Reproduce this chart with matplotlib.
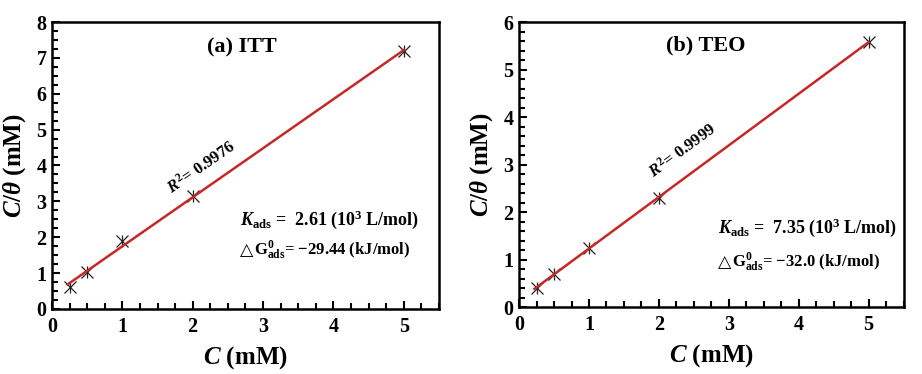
import numpy as np
import matplotlib
matplotlib.use("Agg")
import matplotlib.pyplot as plt
import matplotlib.transforms as mtransforms
from matplotlib.ticker import MultipleLocator

plt.rcParams['font.family'] = ['Liberation Serif', 'DejaVu Serif']
plt.rcParams['font.weight'] = 'bold'
plt.rcParams['mathtext.fontset'] = 'custom'
plt.rcParams['mathtext.rm'] = 'Liberation Serif:bold'
plt.rcParams['mathtext.it'] = 'Liberation Serif:italic:bold'
plt.rcParams['mathtext.bf'] = 'Liberation Serif:bold'
plt.rcParams['mathtext.fallback'] = 'stix'

# Data
conc = [0.25, 0.5, 1.0, 2.0, 5.0]
itt_ratio = [0.60, 1.03, 1.90, 3.15, 7.18]
teo_ratio = [0.40, 0.70, 1.25, 2.30, 5.58]
titles = ['(a) ITT', '(b) TEO']
r2_labels = ['0.9976', '0.9999']
kads_vals = ['2.61', '7.35']
dg_vals = ['\u221229.44', '\u221232.0']

fig = plt.figure(figsize=(9.22, 3.74), dpi=100)
ax1 = fig.add_axes([0.0564, 0.174, 0.4196, 0.767])
ax2 = fig.add_axes([0.563, 0.179, 0.417, 0.762])

cfg = [
    dict(ax=ax1, y=itt_ratio, ylim=8, ymin=0.25, title_xy=(2.7, 7.3),
         r2_xy=(2.12, 3.95), k_xy=(2.67, 2.34), dg_xy=(2.67, 1.5)),
    dict(ax=ax2, y=teo_ratio, ylim=6, ymin=0.2, title_xy=(2.67, 5.5),
         r2_xy=(2.34, 3.3), k_xy=(2.84, 1.56), dg_xy=(2.84, 0.84)),
]

red = '#c62828'
for i, c in enumerate(cfg):
    ax = c['ax']
    x = np.array(conc)
    y = np.array(c['y'])
    p = np.polyfit(x, y, 1)
    xl = np.array([0.22, 5.0])
    ax.plot(x, y, linestyle='none', marker='x', ms=9, mew=0.9, color='#222222', zorder=3)
    ax.plot(x, y, linestyle='none', marker='|', ms=9, mew=0.9, color='#222222', zorder=3)
    ax.plot(xl, np.polyval(p, xl), color=red, lw=1.8, zorder=4)

    ax.set_xlim(0, 5.5)
    ax.set_ylim(0, c['ylim'])
    ax.xaxis.set_major_locator(MultipleLocator(1))
    ax.xaxis.set_minor_locator(MultipleLocator(0.25))
    ax.yaxis.set_major_locator(MultipleLocator(1))
    ax.yaxis.set_minor_locator(MultipleLocator(c['ymin']))
    ax.tick_params(which='both', direction='in', top=False, right=False,
                   labelsize=14.5, width=1.5)
    ax.tick_params(axis='x', which='major', pad=6)
    ax.tick_params(axis='y', which='major', pad=4)
    ax.tick_params(which='major', length=6)
    ax.tick_params(which='minor', length=4)
    for s in ax.spines.values():
        s.set_linewidth(1.8)
    ax.set_xticks([0, 1, 2, 3, 4, 5])
    for lab in ax.get_xticklabels() + ax.get_yticklabels():
        lab.set_fontweight('bold')

    ax.set_xlabel(r'$C$ (mM)', fontsize=18, fontweight='bold', labelpad=5)
    ax.set_ylabel(r'$C/\theta$ (mM)', fontsize=18, fontweight='bold', labelpad=6)

    ax.text(*c['title_xy'], titles[i], fontsize=16, fontweight='bold',
            ha='center', va='center')
    # rotation angle following the fitted line on screen
    fig.canvas.draw()
    p0 = ax.transData.transform((1, np.polyval(p, 1)))
    p1 = ax.transData.transform((4, np.polyval(p, 4)))
    ang = np.degrees(np.arctan2(p1[1] - p0[1], p1[0] - p0[0]))
    ax.text(*c['r2_xy'], r'$R^2$= ' + r2_labels[i], fontsize=12, fontweight='bold',
            rotation=ang, rotation_mode='anchor', ha='center', va='center')
    ax.text(*c['k_xy'], r'$K_{\mathbf{ads}}$ =  ' + kads_vals[i] + r' (10$^3$ L/mol)',
            fontsize=13, fontweight='bold', ha='left', va='baseline')
    ax.text(*c['dg_xy'], '\u25b3', fontsize=12.5, fontweight='normal',
            family=['DejaVu Sans'], ha='left', va='baseline')
    tr = mtransforms.offset_copy(ax.transData, fig=fig, x=10.5, y=0, units='points')
    ax.text(*c['dg_xy'], r'G$^{0}_{\mathbf{ads}}$= ' + dg_vals[i] + ' (kJ/mol)',
            fontsize=12, fontweight='bold', ha='left', va='baseline', transform=tr)

fig.savefig('out.png', dpi=100)
